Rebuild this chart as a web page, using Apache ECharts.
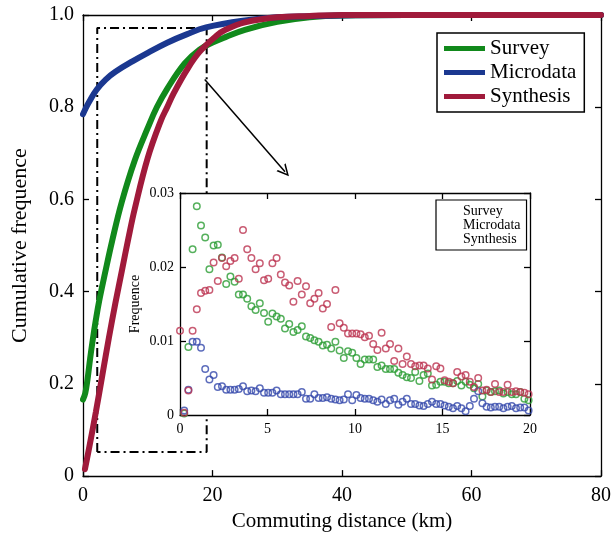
<!DOCTYPE html>
<html>
<head>
<meta charset="utf-8">
<script src="https://cdn.jsdelivr.net/npm/echarts@6/dist/echarts.min.js"></script>
<style>
  html, body { margin: 0; padding: 0; background: #fff; }
  #chart { width: 614px; height: 537px; }
</style>
</head>
<body>
<div id="chart"></div>
<script>
// main plot: cumulative frequence vs commuting distance
const surveyKm  = [0, 0.35, 0.7, 1.1, 1.5, 2, 2.5, 3.4, 4.5, 6, 8, 10, 11.4, 13, 15.7, 18, 20, 22, 25, 30, 35, 40, 50, 80];
const surveyCdf = [0.166, 0.18, 0.21, 0.255, 0.295, 0.34, 0.38, 0.44, 0.51, 0.595, 0.685, 0.755, 0.80, 0.84, 0.895, 0.925, 0.94, 0.952, 0.968, 0.985, 0.995, 0.999, 1.0, 1.0];
const microKm   = [0, 0.5, 1, 2.1, 3.5, 5, 7.7, 10, 13, 16, 19, 25, 30, 40, 50, 80];
const microCdf  = [0.785, 0.80, 0.813, 0.838, 0.86, 0.877, 0.90, 0.918, 0.94, 0.958, 0.973, 0.988, 0.995, 0.999, 1.0, 1.0];
const synthKm   = [0.3, 1, 2, 3, 4, 5, 6, 7, 8, 10, 12, 13, 14, 16, 18, 20.6, 22, 25, 30, 35, 40, 50, 80];
const synthCdf  = [0.015, 0.065, 0.14, 0.22, 0.30, 0.375, 0.445, 0.515, 0.58, 0.69, 0.77, 0.80, 0.83, 0.88, 0.92, 0.955, 0.968, 0.984, 0.995, 0.998, 1.0, 1.0, 1.0];

// inset: frequence per distance bin (values in 1/1000), bins 0.24 km wide
const binWidth = 0.24;
const surveyFreq = [null, 0.2, 9.2, 22.4, 28.2, 25.6, 24.0, 19.7, 22.9, 23.0, 21.3, 17.7, 18.7, 18.0, 16.3, 16.3, 15.7, 14.7, 14.2, 15.1,
  13.8, 12.6, 13.7, 13.3, 13.0, 11.7, 12.3, 11.2, 11.5, 12.0, 10.6, 10.4, 10.1, 9.9, 9.4, 9.5, 9.0, 9.9, 8.7, 7.7,
  8.6, 8.4, 7.7, 6.9, 7.5, 7.5, 7.5, 6.5, 6.7, 6.2, 6.2, 6.2, 5.7, 5.4, 5.1, 5.0, 5.8, 4.6, 5.4, 5.6,
  4.0, 4.1, 4.5, 4.5, 4.3, 4.3, 4.6, 4.0, 4.5, 4.1, 3.6, 4.2, 2.5, 3.3, 3.1, 3.2, 3.3, 2.9, 3.1, 2.8,
  2.8, 3.1, 2.2, 2.0];
const microFreq = [null, 0.6, 3.4, 9.9, 9.9, 9.1, 6.2, 4.8, 5.4, 3.8, 3.9, 3.4, 3.4, 3.4, 3.5, 3.9, 3.2, 3.3, 3.2, 3.6,
  3.0, 3.0, 3.0, 3.3, 2.8, 2.8, 2.8, 2.8, 2.8, 3.1, 2.2, 2.2, 2.8, 2.3, 2.3, 2.4, 2.2, 2.1, 2.0, 2.1,
  2.8, 2.0, 2.7, 2.3, 2.2, 2.2, 2.0, 1.8, 2.1, 1.5, 2.0, 2.2, 1.4, 1.8, 2.2, 1.5, 1.5, 1.3, 1.2, 1.5,
  1.8, 1.5, 1.5, 1.3, 1.1, 0.9, 1.2, 0.9, 0.5, 1.2, 2.2, 3.2, 1.6, 1.1, 1.0, 1.1, 1.1, 0.9, 1.1, 1.2,
  0.9, 1.0, 1.0, 0.6];
const synthFreq = [11.4, 0.3, 3.3, 11.4, 14.3, 16.5, 16.8, 16.9, 20.6, 18.1, 21.2, 20.1, 20.8, 21.2, 18.4, 25.0, 22.4, 21.2, 19.7, 20.5,
  18.2, 18.4, 20.5, 21.2, 19.0, 17.9, 17.5, 15.3, 18.1, 16.3, 17.4, 15.1, 15.7, 16.5, 14.4, 15.0, 11.9, 16.9, 12.4, 11.8,
  11.0, 11.0, 11.0, 10.9, 10.5, 10.7, 9.6, 8.8, 11.1, 9.0, 9.6, 7.3, 9.0, 6.9, 7.9, 6.9, 6.6, 6.7, 6.7, 6.3,
  4.8, 6.6, 6.3, 4.7, 4.5, 4.3, 5.8, 5.2, 5.4, 4.5, 3.8, 5.0, 3.3, 3.4, 3.1, 4.2, 3.1, 3.1, 4.1, 3.1,
  3.2, 3.1, 3.0, 2.8];

// zoom box and arrow, in main-axis data units
const zoomBox = [[2.2, 0.052], [2.2, 0.972], [19.1, 0.972], [19.1, 0.052], [2.2, 0.052]];
const arrowFrom = [18.8, 0.86];
const arrowTo = [31.2, 0.66];

const names = ['Survey', 'Microdata', 'Synthesis'];
const lineColors = ['#11891b', '#1b3890', '#a01a3b'];
const dotColors = ['#2a9c33', '#3548ab', '#bb3350'];
const FONT = '"Liberation Serif", "DejaVu Serif", serif';

const pairs = (xs, ys) => xs.map((x, i) => [x, ys[i]]);
const binPairs = ys => ys.map((v, i) => [i * binWidth, v]);

const chart = echarts.init(document.getElementById('chart'));

const lbl = (size) => ({ color: '#000', fontFamily: FONT, fontSize: size });
const boxAxis = (gridIndex, pos, extra) => Object.assign({
  gridIndex, position: pos, type: 'value',
  axisLine: { show: true, onZero: false, lineStyle: { color: '#000', width: 1.3 } },
  axisTick: { show: true, inside: true, length: 6, lineStyle: { color: '#000', width: 1.3 } },
  axisLabel: { show: false },
  splitLine: { show: false }
}, extra);

const cdfLine = (i, xs, ys) => ({
  type: 'line', name: names[i], xAxisIndex: 0, yAxisIndex: 0, data: pairs(xs, ys),
  symbol: 'none', smooth: 0.4,
  lineStyle: { color: lineColors[i], width: 6, cap: 'round' }, itemStyle: { color: lineColors[i] }
});

chart.setOption({
  animation: false,
  backgroundColor: '#fff',
  grid: [
    { left: 83, top: 15, right: 13, bottom: 58 },
    { left: 180, top: 193, width: 350, height: 222, show: true, backgroundColor: '#fff', borderWidth: 0, z: 10 }
  ],
  xAxis: [
    boxAxis(0, 'bottom', {
      min: 0, max: 80, interval: 20,
      axisLabel: Object.assign({ show: true, margin: 10 }, lbl(20)),
      name: 'Commuting distance (km)', nameLocation: 'middle', nameGap: 32,
      nameTextStyle: lbl(21)
    }),
    boxAxis(0, 'top', { min: 0, max: 80, interval: 20 }),
    boxAxis(1, 'bottom', {
      min: 0, max: 20, interval: 5, z: 11,
      axisLabel: Object.assign({ show: true, margin: 7 }, lbl(14))
    }),
    boxAxis(1, 'top', { min: 0, max: 20, interval: 5, z: 11 })
  ],
  yAxis: [
    boxAxis(0, 'left', {
      min: 0, max: 1, interval: 0.2,
      axisLabel: Object.assign({ show: true, margin: 9,
        formatter: v => v === 0 ? '0' : v.toFixed(1) }, lbl(20)),
      name: 'Cumulative frequence', nameLocation: 'middle', nameGap: 52,
      nameTextStyle: lbl(22)
    }),
    boxAxis(0, 'right', { min: 0, max: 1, interval: 0.2 }),
    boxAxis(1, 'left', {
      min: 0, max: 30, interval: 10, z: 11,
      axisLabel: Object.assign({ show: true, margin: 6,
        formatter: v => v === 0 ? '0' : (v / 1000).toFixed(2) }, lbl(14)),
      name: 'Frequence', nameLocation: 'middle', nameGap: 38, nameMoveOverlap: false,
      nameTextStyle: lbl(14)
    }),
    boxAxis(1, 'right', { min: 0, max: 30, interval: 10, z: 11 })
  ],
  legend: [
    {
      left: 437, top: 33, orient: 'vertical', z: 20,
      data: names.map((n, i) => ({ name: n, itemStyle: { color: lineColors[i] } })),
      icon: 'rect', itemWidth: 41, itemHeight: 5, itemGap: 3,
      padding: [5, 8, 5, 7],
      borderColor: '#000', borderWidth: 1.5, backgroundColor: '#fff',
      textStyle: lbl(21)
    },
    {
      left: 436, top: 200, orient: 'vertical', z: 20,
      data: names.map(n => ({ name: n, itemStyle: { color: 'rgba(0,0,0,0)', borderWidth: 0 } })),
      icon: 'rect', itemWidth: 16, itemHeight: 4, itemGap: 0,
      padding: [4, 6, 4, 6],
      borderColor: '#000', borderWidth: 1.2, backgroundColor: '#fff',
      textStyle: lbl(14)
    }
  ],
  series: [
    {
      type: 'line', name: 'zoom', xAxisIndex: 0, yAxisIndex: 0, data: zoomBox,
      symbol: 'none', z: 1, silent: true,
      lineStyle: { color: '#000', width: 2, type: [9, 4, 2, 4] },
      markLine: {
        silent: true, symbol: ['none', 'path://M0,10 L5,0 L10,10 L8.6,10 L5,2.8 L1.4,10 Z'], symbolSize: [12, 12],
        label: { show: false },
        lineStyle: { color: '#000', width: 1.5, type: 'solid' },
        data: [[{ coord: arrowFrom }, { coord: arrowTo }]]
      }
    },
    cdfLine(0, surveyKm, surveyCdf),
    cdfLine(1, microKm, microCdf),
    cdfLine(2, synthKm, synthCdf),
    ...[surveyFreq, microFreq, synthFreq].map((ys, i) => ({
      type: 'scatter', name: names[i], xAxisIndex: 2, yAxisIndex: 2, z: 12,
      data: binPairs(ys), symbol: 'circle', symbolSize: 6.5, clip: false,
      itemStyle: { color: 'rgba(0,0,0,0)', borderColor: dotColors[i], borderWidth: 1.5 }
    }))
  ]
});
</script>
</body>
</html>
